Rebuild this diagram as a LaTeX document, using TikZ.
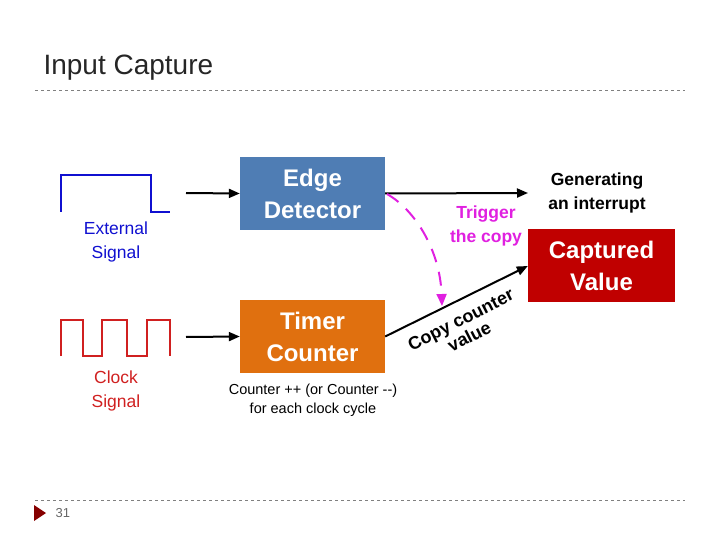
\documentclass[tikz,border=0pt]{standalone}
\usepackage{fontspec}
\setmainfont{Liberation Sans}
\usetikzlibrary{arrows.meta}
\definecolor{edgeblue}{HTML}{4F7DB4}
\definecolor{timerorange}{HTML}{E0700F}
\definecolor{capred}{HTML}{C00000}
\definecolor{sigblue}{HTML}{1010D0}
\definecolor{sigred}{HTML}{D02020}
\definecolor{mag}{HTML}{E020E0}
\begin{document}
\begin{tikzpicture}[x=1pt,y=-1pt,
  box/.style={draw=none,minimum width=145pt,minimum height=73pt,text=white,font=\bfseries\fontsize{24}{32}\selectfont,align=center},
  arr/.style={-{Triangle[length=11pt,width=9pt]},line width=2pt},
  lbl/.style={font=\fontsize{17.5}{24}\selectfont,align=center}]
\useasboundingbox (0,0) rectangle (720,540);
\node[anchor=west,font=\fontsize{28}{32}\selectfont,text=black!85] (title) at (40,68) {Input Capture};
\draw[dashed,gray,line width=0.8pt] (35,90) -- (685,90);
\draw[dashed,gray,line width=0.8pt] (35,500) -- (685,500);
\fill[capred!70!black] (34,505) -- (46,513) -- (34,521) -- cycle;
\node[anchor=west,font=\fontsize{13}{15}\selectfont,text=gray!80!black] (pg) at (52,513) {31};
% signals
\draw[sigblue,line width=2.5pt] (61,212)--(61,175)--(151,175)--(151,212)--(170,212);
\node[lbl,text=sigblue] (ext) at (116,242) {External\\Signal};
\draw[sigred,line width=2.5pt] (61,356)--(61,320)--(83,320)--(83,356)--(102,356)--(102,320)--(127,320)--(127,356)--(147,356)--(147,320)--(170,320)--(170,356);
\node[lbl,text=sigred] (clk) at (116,391) {Clock\\Signal};
\coordinate (es) at (186,193);
\coordinate (cs) at (186,337);
% boxes
\node[box,fill=edgeblue] (edge) at (312.5,193.5) {Edge\\Detector};
\node[box,fill=timerorange] (timer) at (312.5,336.5) {Timer\\Counter};
\node[box,fill=capred,minimum width=147pt] (cap) at (601.5,265.5) {Captured\\Value};
\draw[arr] (es) -- (edge.west);
\draw[arr] (cs) -- (timer.west);
\node[font=\bfseries\fontsize{17.5}{24}\selectfont,align=center] (gen) at (597,193) {Generating\\an interrupt};
\coordinate (genl) at (528,193);
\draw[arr] (edge.east) -- (genl);
\node[font=\fontsize{14.5}{19}\selectfont,align=center] (cnt) at (313,400) {Counter ++ (or Counter {-}{-})\\for each clock cycle};
% copy
\draw[arr] (timer.east) -- (cap.west|-0,266) coordinate (capin);
\node[font=\bfseries\fontsize{18}{19}\selectfont,align=center,rotate=27] (cpy) at (465,328) {Copy counter\\value};
\node[font=\bfseries\fontsize{17.5}{24}\selectfont,align=center,text=mag] (trig) at (486,226) {Trigger\\the copy};
\coordinate (trs) at (387,194);
\coordinate (tre) at (442,306);
\draw[mag,line width=2pt,dash pattern=on 14pt off 10pt,-{Triangle[length=12pt,width=10pt]}] (trs) .. controls (415,210) and (440,250) .. (tre);
\end{tikzpicture}
\end{document}
